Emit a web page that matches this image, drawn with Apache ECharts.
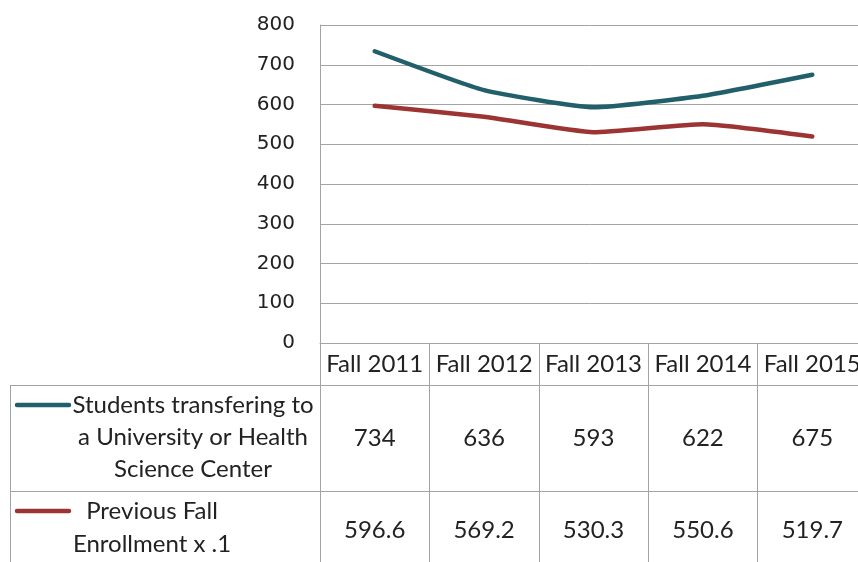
<!DOCTYPE html>
<html><head><meta charset="utf-8">
<script src="https://cdn.jsdelivr.net/npm/echarts@6/dist/echarts.min.js"></script>
<style>html,body{margin:0;padding:0;background:#fff}#c{width:858px;height:562px}</style>
</head><body><div id="c"></div>
<script>
var categories = ['Fall 2011','Fall 2012','Fall 2013','Fall 2014','Fall 2015'];
var transfers = [734, 636, 593, 622, 675];
var enrollment = [596.6, 569.2, 530.3, 550.6, 519.7];
var seriesNames = ['Students transfering to\na University or Health\nScience Center', 'Previous Fall\nEnrollment x .1'];
var yTicks = [0, 100, 200, 300, 400, 500, 600, 700, 800];
var colors = ['#215f6b', '#9b3433'];

var tableFont = 'Lato';
var gridColor = '#a3a3a3';
var textColor = '#222';

var chart = echarts.init(document.getElementById('c'), null, {renderer: 'canvas'});
function valAxis(gridIndex, data, margin, show){
  return {
    type: 'category', gridIndex: gridIndex, data: data, position: 'top',
    boundaryGap: true,
    axisLine: {show: false}, axisTick: {show: false},
    splitLine: {show: show, lineStyle: {color: gridColor, width: 1}},
    axisLabel: {inside: true, margin: margin, verticalAlign: 'middle', interval: 0,
      fontFamily: tableFont, fontSize: 24, color: textColor}
  };
}
chart.setOption({
  animation: false,
  grid: [
    {left: 320, width: 547, top: 25, height: 318, outerBoundsMode: 'none', containLabel: false},
    {left: 320, width: 547, top: 343, height: 300, outerBoundsMode: 'none', containLabel: false}
  ],
  xAxis: [
    {type: 'category', gridIndex: 0, data: categories, boundaryGap: true,
     axisLine: {show: true, lineStyle: {color: gridColor, width: 1}},
     axisTick: {show: false}, axisLabel: {show: false}},
    valAxis(1, categories, 21, true),
    valAxis(1, transfers.map(String), 95, false),
    valAxis(1, enrollment.map(function(v){return v.toFixed(1);}), 187, false)
  ],
  yAxis: [
    {type: 'value', gridIndex: 0, min: yTicks[0], max: yTicks[yTicks.length-1], interval: 100,
     axisLine: {show: true, lineStyle: {color: gridColor, width: 1}},
     axisTick: {show: false},
     splitLine: {show: true, lineStyle: {color: gridColor, width: 1}},
     axisLabel: {margin: 25, fontFamily: 'DejaVu Sans', fontSize: 20, color: textColor}},
    {type: 'value', gridIndex: 1, show: false}
  ],
  series: [
    {name: seriesNames[0], type: 'line', xAxisIndex: 0, yAxisIndex: 0, data: transfers,
     smooth: 0.15, symbol: 'none', lineStyle: {color: colors[0], width: 4.5, cap: 'round'}},
    {name: seriesNames[1], type: 'line', xAxisIndex: 0, yAxisIndex: 0, data: enrollment,
     smooth: 0.15, symbol: 'none', lineStyle: {color: colors[1], width: 4.5, cap: 'round'}}
  ],
  graphic: [
    {type: 'line', shape: {x1: 10, y1: 385.5, x2: 858, y2: 385.5}, style: {stroke: gridColor, lineWidth: 1}},
    {type: 'line', shape: {x1: 10, y1: 491.5, x2: 858, y2: 491.5}, style: {stroke: gridColor, lineWidth: 1}},
    {type: 'line', shape: {x1: 10.5, y1: 385, x2: 10.5, y2: 562}, style: {stroke: gridColor, lineWidth: 1}},
    {type: 'line', shape: {x1: 17, y1: 405, x2: 69, y2: 405}, style: {stroke: colors[0], lineWidth: 4.5, lineCap: 'round'}},
    {type: 'line', shape: {x1: 17, y1: 511, x2: 69, y2: 511}, style: {stroke: colors[1], lineWidth: 4.5, lineCap: 'round'}},
    {type: 'text', x: 193, y: 437, style: {text: seriesNames[0], align: 'center', verticalAlign: 'middle',
      font: '24px Lato', fill: textColor, lineHeight: 32}},
    {type: 'text', x: 152, y: 528, style: {text: seriesNames[1], align: 'center', verticalAlign: 'middle',
      font: '24px Lato', fill: textColor, lineHeight: 33}}
  ]
});
</script></body></html>
